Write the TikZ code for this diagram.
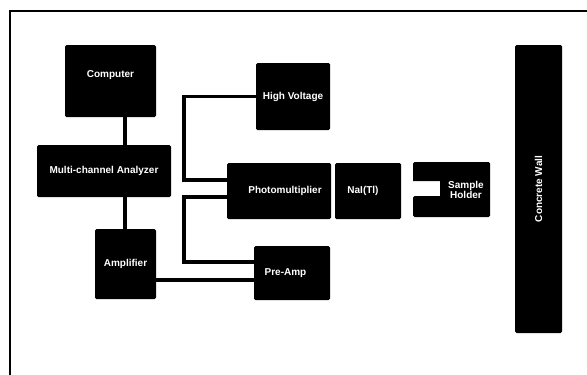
\documentclass[tikz,border=0pt]{standalone}
\usepackage{fontspec}
\setmainfont{Liberation Sans}
\begin{document}
\begin{tikzpicture}[x=1pt,y=-1pt,
  blk/.style={fill=black,rounded corners=1.5pt,inner sep=0pt,text=white,font=\bfseries\fontsize{10}{12}\selectfont,align=center},
  wire/.style={line width=3.6pt,line join=miter}]
\useasboundingbox (0,0) rectangle (587,375);
\fill[white] (0,0) rectangle (587,375);
\draw[line width=2pt] (10,380) -- (10,11) -- (595,11);
% boxes
\node[blk,minimum width=91pt,minimum height=72pt,text depth=14pt] (comp) at (110.5,81) {Computer};
\node[blk,minimum width=134pt,minimum height=52pt] (mca) at (104,171) {Multi-channel Analyzer};
\node[blk,minimum width=61pt,minimum height=70pt] (amp) at (125.5,264) {Amplifier};
\node[blk,minimum width=74pt,minimum height=67pt] (hv) at (293,96.5) {High Voltage};
\node[blk,minimum width=104pt,minimum height=56pt] (pm) at (279,191) {\hspace*{12pt}Photomultiplier};
\node[blk,minimum width=66pt,minimum height=56pt] (nai) at (368,191) {NaI(Tl)\hspace*{10pt}};
\node[blk,minimum width=76pt,minimum height=54pt] (pre) at (292,273) {\hspace*{0pt}Pre-Amp\hspace*{13pt}};
\node[blk,minimum width=47pt,minimum height=288pt] (wall) at (538.5,189) {};
\node[text=white,font=\bfseries\fontsize{10}{12}\selectfont,rotate=90] (walltxt) at (wall.center) {Concrete Wall};
% sample holder with notch
\fill[black,rounded corners=1.5pt] (413,162) -- (490,162) -- (490,217) -- (413,217) -- (413,196) [sharp corners]-- (440,196) -- (440,181) -- (413,181) [rounded corners=1.5pt]-- cycle;
\node[text=white,font=\bfseries\fontsize{10}{12}\selectfont,align=center] (sh) at (466,190) {Sample\\[-1.5pt]Holder};
% connectors
\coordinate (bus) at (125,0);
\draw[wire] (bus |- comp.south) -- (bus |- mca.north);
\draw[wire] (bus |- mca.south) -- (bus |- amp.north);
\coordinate (lx) at (184,0);
\draw[wire] (hv.west) -- (lx |- hv.west) -- (lx |- 0,180) -- (pm.west |- 0,180);
\draw[wire] (pm.west |- 0,197) -- (lx |- 0,197) -- (lx |- 0,262) -- (pre.west |- 0,262);
\draw[wire] (amp.east |- 0,280) -- (pre.west |- 0,280);
\end{tikzpicture}
\end{document}
